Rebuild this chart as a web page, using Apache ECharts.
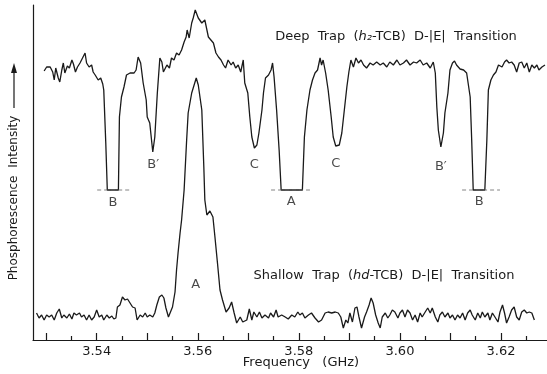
<!DOCTYPE html>
<html>
<head>
<meta charset="utf-8">
<script src="https://cdn.jsdelivr.net/npm/echarts@6/dist/echarts.min.js"></script>
<style>
  html, body { margin: 0; padding: 0; background: #fff; }
  #chart { width: 547px; height: 374px; }
</style>
</head>
<body>
<div id="chart"></div>
<script>
// frequency in GHz, intensity in arbitrary units
const deepFreq = [
  3.5296, 3.5301, 3.5308, 3.5313, 3.5316, 3.5319, 3.5324, 3.5327, 3.5331, 3.5334,
  3.5337, 3.5342, 3.5346, 3.5351, 3.5354, 3.5358, 3.5362, 3.5367, 3.5370, 3.5373,
  3.5377, 3.5380, 3.5385, 3.5390, 3.5393, 3.5397, 3.5400, 3.5403, 3.5408, 3.5412,
  3.5414, 3.5418, 3.5421, 3.5443, 3.5445, 3.5449, 3.5454, 3.5459, 3.5466, 3.5474,
  3.5478, 3.5482, 3.5487, 3.5492, 3.5498, 3.5500, 3.5505, 3.5511, 3.5515, 3.5520,
  3.5525, 3.5529, 3.5532, 3.5539, 3.5544, 3.5548, 3.5553, 3.5558, 3.5563, 3.5568,
  3.5573, 3.5577, 3.5579, 3.5583, 3.5588, 3.5591, 3.5595, 3.5601, 3.5608, 3.5614,
  3.5621, 3.5626, 3.5631, 3.5636, 3.5641, 3.5646, 3.5651, 3.5655, 3.5660, 3.5666,
  3.5670, 3.5675, 3.5680, 3.5685, 3.5690, 3.5693, 3.5699, 3.5703, 3.5707, 3.5712,
  3.5717, 3.5721, 3.5727, 3.5730, 3.5734, 3.5740, 3.5745, 3.5748, 3.5751, 3.5756,
  3.5761, 3.5765, 3.5807, 3.5811, 3.5816, 3.5822, 3.5827, 3.5832, 3.5837, 3.5842,
  3.5845, 3.5848, 3.5853, 3.5858, 3.5864, 3.5868, 3.5873, 3.5880, 3.5885, 3.5890,
  3.5895, 3.5899, 3.5903, 3.5908, 3.5913, 3.5918, 3.5923, 3.5928, 3.5934, 3.5941,
  3.5947, 3.5954, 3.5961, 3.5967, 3.5974, 3.5980, 3.5987, 3.5994, 3.6000, 3.6007,
  3.6013, 3.6020, 3.6027, 3.6033, 3.6040, 3.6046, 3.6053, 3.6060, 3.6066, 3.6070,
  3.6073, 3.6076, 3.6081, 3.6086, 3.6089, 3.6095, 3.6099, 3.6104, 3.6108, 3.6112,
  3.6119, 3.6126, 3.6132, 3.6139, 3.6142, 3.6145, 3.6168, 3.6172, 3.6175, 3.6180,
  3.6185, 3.6190, 3.6195, 3.6202, 3.6207, 3.6211, 3.6216, 3.6221, 3.6226, 3.6231,
  3.6236, 3.6241, 3.6246, 3.6251, 3.6256, 3.6261, 3.6266, 3.6271, 3.6275, 3.6281,
  3.6287
];
const deepIntensity = [
  269, 273, 273, 268, 260, 272, 262, 258, 270, 277,
  267, 274, 272, 280, 276, 268, 273, 277, 275, 283,
  287, 277, 273, 275, 268, 265, 263, 260, 262, 256,
  250, 197, 150, 150, 223, 243, 253, 265, 267, 267,
  270, 283, 277, 257, 240, 223, 217, 188, 203, 247,
  282, 278, 268, 275, 272, 282, 280, 287, 285, 290,
  298, 303, 310, 302, 317, 322, 330, 322, 317, 320,
  303, 300, 297, 287, 283, 280, 275, 272, 280, 275,
  278, 272, 275, 268, 280, 257, 247, 223, 203, 192,
  195, 207, 230, 247, 262, 265, 270, 277, 263, 230,
  190, 150, 150, 203, 230, 250, 260, 267, 270, 282,
  275, 280, 267, 250, 223, 203, 194, 195, 207, 230,
  253, 268, 280, 273, 282, 277, 280, 275, 272, 277,
  275, 278, 275, 277, 273, 278, 275, 280, 275, 277,
  280, 275, 278, 277, 280, 275, 277, 272, 278, 267,
  233, 210, 193, 207, 227, 247, 270, 277, 279, 275,
  271, 270, 267, 243, 200, 150, 150, 200, 250, 260,
  265, 268, 275, 273, 278, 280, 277, 278, 275, 268,
  277, 278, 272, 277, 268, 275, 272, 275, 270, 273,
  275
];

const shallowFreq = [
  3.5281, 3.5286, 3.5291, 3.5296, 3.5301, 3.5306, 3.5311, 3.5316, 3.5321, 3.5326,
  3.5331, 3.5335, 3.5341, 3.5346, 3.5351, 3.5355, 3.5360, 3.5366, 3.5370, 3.5375,
  3.5380, 3.5385, 3.5390, 3.5395, 3.5400, 3.5405, 3.5410, 3.5414, 3.5420, 3.5425,
  3.5430, 3.5434, 3.5438, 3.5441, 3.5446, 3.5451, 3.5456, 3.5461, 3.5466, 3.5471,
  3.5476, 3.5480, 3.5486, 3.5491, 3.5496, 3.5500, 3.5505, 3.5511, 3.5515, 3.5519,
  3.5524, 3.5529, 3.5533, 3.5537, 3.5542, 3.5545, 3.5550, 3.5555, 3.5558, 3.5561,
  3.5565, 3.5568, 3.5573, 3.5578, 3.5581, 3.5588, 3.5597, 3.5601, 3.5608, 3.5612,
  3.5614, 3.5618, 3.5624, 3.5630, 3.5634, 3.5639, 3.5644, 3.5649, 3.5656, 3.5662,
  3.5667, 3.5672, 3.5677, 3.5684, 3.5689, 3.5697, 3.5702, 3.5707, 3.5711, 3.5717,
  3.5722, 3.5727, 3.5733, 3.5740, 3.5744, 3.5750, 3.5755, 3.5759, 3.5766, 3.5773,
  3.5779, 3.5786, 3.5792, 3.5798, 3.5802, 3.5807, 3.5812, 3.5819, 3.5825, 3.5832,
  3.5839, 3.5845, 3.5852, 3.5858, 3.5865, 3.5872, 3.5878, 3.5883, 3.5888, 3.5893,
  3.5897, 3.5901, 3.5906, 3.5911, 3.5915, 3.5919, 3.5924, 3.5930, 3.5934, 3.5939,
  3.5943, 3.5947, 3.5952, 3.5957, 3.5961, 3.5965, 3.5971, 3.5976, 3.5980, 3.5985,
  3.5990, 3.5996, 3.6000, 3.6005, 3.6010, 3.6015, 3.6020, 3.6025, 3.6030, 3.6035,
  3.6040, 3.6044, 3.6050, 3.6055, 3.6060, 3.6064, 3.6070, 3.6075, 3.6079, 3.6084,
  3.6089, 3.6095, 3.6099, 3.6104, 3.6109, 3.6114, 3.6119, 3.6124, 3.6129, 3.6134,
  3.6139, 3.6143, 3.6149, 3.6154, 3.6159, 3.6163, 3.6168, 3.6174, 3.6178, 3.6183,
  3.6188, 3.6194, 3.6198, 3.6203, 3.6207, 3.6211, 3.6216, 3.6221, 3.6226, 3.6231,
  3.6236, 3.6241, 3.6246, 3.6251, 3.6256, 3.6261, 3.6266
];
const shallowIntensity = [
  27, 22, 25, 20, 25, 23, 25, 20, 27, 31,
  22, 25, 22, 26, 21, 27, 25, 27, 23, 25,
  20, 25, 20, 23, 30, 23, 25, 20, 25, 22,
  24, 21, 22, 33, 35, 43, 40, 41, 37, 33,
  32, 20, 25, 23, 27, 23, 25, 23, 27, 35,
  43, 45, 42, 32, 23, 21, 33, 48, 70, 87,
  107, 120, 150, 200, 227, 247, 262, 255, 230, 173,
  140, 125, 129, 123, 103, 77, 50, 40, 28, 32,
  38, 27, 17, 23, 18, 20, 31, 20, 28, 23,
  28, 22, 25, 22, 27, 23, 30, 23, 25, 23,
  21, 25, 23, 28, 25, 27, 22, 25, 27, 22,
  18, 20, 27, 28, 27, 28, 27, 23, 12, 20,
  17, 27, 18, 32, 33, 23, 12, 23, 28, 35,
  42, 37, 25, 17, 12, 23, 27, 22, 25, 30,
  28, 22, 27, 30, 23, 30, 27, 20, 25, 18,
  27, 23, 28, 32, 27, 32, 23, 18, 25, 28,
  23, 27, 22, 25, 20, 25, 22, 27, 20, 27,
  30, 25, 20, 27, 22, 28, 23, 27, 20, 27,
  23, 18, 28, 35, 27, 17, 23, 30, 33, 23,
  20, 28, 30, 27, 28, 27, 20
];

// off-scale level of the recorder for the deep dips (dashed segments)
const clipLevel = 150;
const clipRanges = [[3.5401, 3.5466], [3.5745, 3.5822], [3.6123, 3.6198]];

// line assignments
const peakNames = ['B', "B\u2032", 'C', 'A', 'C', "B\u2032", 'B', 'A'];
const peakFreq = [3.5432, 3.5512, 3.5712, 3.5785, 3.5873, 3.6081, 3.6157, 3.5596];
const peakLabelY = [137, 175, 175, 138, 176, 173, 138, 55];

const majorTicks = [3.53, 3.54, 3.55, 3.56, 3.57, 3.58, 3.59, 3.60, 3.61, 3.62];
const minorTicks = [3.535, 3.545, 3.555, 3.565, 3.575, 3.585, 3.595, 3.605, 3.615, 3.625];
const tickLabels = [3.54, 3.56, 3.58, 3.60, 3.62];

const font = 'DejaVu Sans';
const ink = '#1a1a1a';

const zip = (xs, ys) => xs.map((x, i) => [x, ys[i]]);

const myChart = echarts.init(document.getElementById('chart'), null, { renderer: 'canvas' });

const xBase = {
  type: 'value',
  min: 3.5274,
  max: 3.6291,
  splitLine: { show: false }
};

const option = {
  animation: false,
  backgroundColor: '#fff',
  grid: { left: 33, right: 0, top: 5, bottom: 34 },
  xAxis: [
    Object.assign({}, xBase, {
      axisLine: { show: true, lineStyle: { color: ink, width: 1.2 } },
      axisTick: { show: true, inside: true, length: 7, customValues: majorTicks, lineStyle: { color: ink, width: 1.2 } },
      axisLabel: {
        show: true, customValues: tickLabels, margin: 5,
        fontFamily: font, fontSize: 13, color: ink,
        formatter: v => v.toFixed(2)
      }
    }),
    Object.assign({}, xBase, {
      position: 'bottom',
      axisLine: { show: false },
      axisTick: { show: true, inside: true, length: 4, customValues: minorTicks, lineStyle: { color: ink, width: 1.2 } },
      axisLabel: { show: false }
    })
  ],
  yAxis: {
    type: 'value',
    min: 0,
    max: 335,
    axisLine: { show: true, lineStyle: { color: ink, width: 1.2 } },
    axisTick: { show: false },
    axisLabel: { show: false },
    splitLine: { show: false }
  },
  series: [
    {
      name: 'deep',
      type: 'line',
      data: zip(deepFreq, deepIntensity),
      showSymbol: false,
      symbol: 'none',
      lineStyle: { color: ink, width: 1.3 }
    },
    {
      name: 'shallow',
      type: 'line',
      data: zip(shallowFreq, shallowIntensity),
      showSymbol: false,
      symbol: 'none',
      lineStyle: { color: ink, width: 1.3 }
    },
    ...clipRanges.map(r => ({
      type: 'line',
      data: [[r[0], clipLevel], [r[1], clipLevel]],
      symbol: 'none',
      lineStyle: { color: '#666', width: 0.8, type: [4, 3] }
    })),
    {
      name: 'labels',
      type: 'scatter',
      symbolSize: 0,
      data: peakFreq.map((f, i) => [f, peakLabelY[i], peakNames[i]]),
      label: {
        show: true, position: 'inside',
        fontFamily: font, fontSize: 13, color: ink,
        formatter: p => p.value[2]
      }
    }
  ],
  graphic: [
    {
      type: 'text', x: 396, y: 37,
      style: {
        text: 'Deep  Trap  ({i|h\u2082}-TCB)  D-|E|  Transition',
        fontFamily: font, fontSize: 13, fill: ink,
        align: 'center', verticalAlign: 'middle',
        rich: { i: { fontFamily: font, fontSize: 13, fontStyle: 'italic', fill: ink } }
      }
    },
    {
      type: 'text', x: 384, y: 276,
      style: {
        text: 'Shallow  Trap  ({i|hd}-TCB)  D-|E|  Transition',
        fontFamily: font, fontSize: 13, fill: ink,
        align: 'center', verticalAlign: 'middle',
        rich: { i: { fontFamily: font, fontSize: 13, fontStyle: 'italic', fill: ink } }
      }
    },
    {
      type: 'text', x: 301, y: 363,
      style: {
        text: 'Frequency   (GHz)',
        fontFamily: font, fontSize: 13, fill: ink,
        align: 'center', verticalAlign: 'middle'
      }
    },
    {
      type: 'text', x: 14, y: 198, rotation: Math.PI / 2,
      style: {
        text: 'Phosphorescence  Intensity',
        fontFamily: font, fontSize: 12, fill: ink,
        align: 'center', verticalAlign: 'middle'
      }
    },
    // arrow next to the y-axis title
    {
      type: 'line',
      shape: { x1: 14, y1: 108, x2: 14, y2: 70 },
      style: { stroke: ink, lineWidth: 1.2 }
    },
    {
      type: 'polygon',
      shape: { points: [[14, 63], [11, 73], [17, 73]] },
      style: { fill: ink }
    }
  ]
};

option && myChart.setOption(option);
</script>
</body>
</html>
